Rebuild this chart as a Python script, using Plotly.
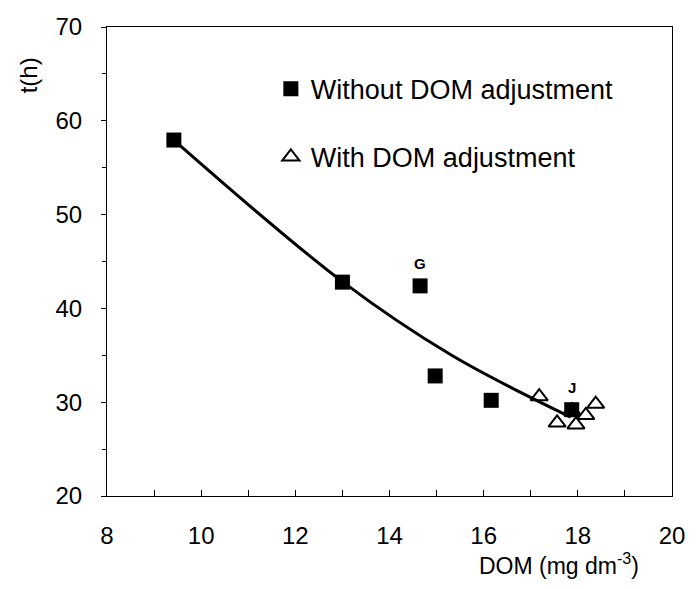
import plotly.graph_objects as go

# Data
sq_x = [9.42, 13.0, 14.65, 14.97, 16.16, 17.87]
sq_y = [57.95, 42.8, 42.4, 32.8, 30.2, 29.2]

tri_x = [17.18, 17.56, 17.87, 17.96, 18.17, 18.38]
tri_y = [30.6, 27.8, 29.1, 27.6, 28.6, 29.8]

fit_x = [9.42, 13.0, 15.32, 17.85]
fit_y = [57.95, 42.85, 35.0, 28.4]

label_x = [14.65, 17.87]
label_y = [42.4, 29.2]
label_t = ["G", "J"]

x_ticks = [8, 10, 12, 14, 16, 18, 20]
y_ticks = [20, 30, 40, 50, 60, 70]

FONT = "Liberation Sans, Arial, sans-serif"

fig = go.Figure()
fig.add_trace(go.Scatter(x=fit_x, y=fit_y, mode="lines",
                         line=dict(color="black", width=3, shape="spline", smoothing=1.0),
                         showlegend=False, hoverinfo="skip"))
fig.add_trace(go.Scatter(x=sq_x, y=sq_y, mode="markers", name="Without DOM adjustment",
                         marker=dict(symbol="square", size=15, color="black"), legendgroup="a"))
fig.add_trace(go.Scatter(x=tri_x, y=tri_y, mode="markers", name="With DOM adjustment",
                         marker=dict(symbol="triangle-up-open", size=15, color="black", line=dict(width=2)),
                         legendgroup="b"))

for lx, ly, lt in zip(label_x, label_y, label_t):
    fig.add_annotation(x=lx, y=ly, text="<b>" + lt + "</b>", showarrow=False, yshift=22,
                       font=dict(family=FONT, size=15, color="black"))

fig.add_annotation(xref="paper", yref="paper", x=-0.139, y=0.898, text="t(h)", textangle=-90,
                   showarrow=False, xanchor="center", yanchor="middle",
                   font=dict(family=FONT, size=24, color="black"))
fig.add_annotation(xref="paper", yref="paper", x=0.80, y=-0.145, text="DOM (mg dm<sup>-3</sup>)",
                   showarrow=False, xanchor="center", yanchor="middle",
                   font=dict(family=FONT, size=23, color="black"))

fig.update_xaxes(range=[8, 20], tickvals=x_ticks, ticks="inside", ticklen=6, tickwidth=1, tickcolor="black",
                 minor=dict(dtick=1, ticks="inside", ticklen=6, tickcolor="black"),
                 showline=True, linecolor="black", linewidth=1, mirror=True, showgrid=False, zeroline=False,
                 tickfont=dict(family=FONT, size=24, color="black"), ticklabelstandoff=18)
fig.update_yaxes(range=[20, 70], tickvals=y_ticks, ticks="outside", ticklen=5, tickwidth=1, tickcolor="black",
                 minor=dict(dtick=5, ticks="outside", ticklen=4, tickcolor="black"),
                 showline=True, linecolor="black", linewidth=1, mirror=True, showgrid=False, zeroline=False,
                 tickfont=dict(family=FONT, size=24, color="black"), ticklabelstandoff=14)

fig.update_layout(
    width=697, height=589,
    margin=dict(l=107, r=16, t=27, b=93),
    paper_bgcolor="white", plot_bgcolor="white",
    font=dict(family=FONT, color="black"),
    legend=dict(x=0.29, y=0.795, xanchor="left", yanchor="middle", bgcolor="rgba(0,0,0,0)",
                font=dict(family=FONT, size=27, color="black"), traceorder="grouped", tracegroupgap=30,
                itemwidth=30),
)

fig.write_html("out.html")
